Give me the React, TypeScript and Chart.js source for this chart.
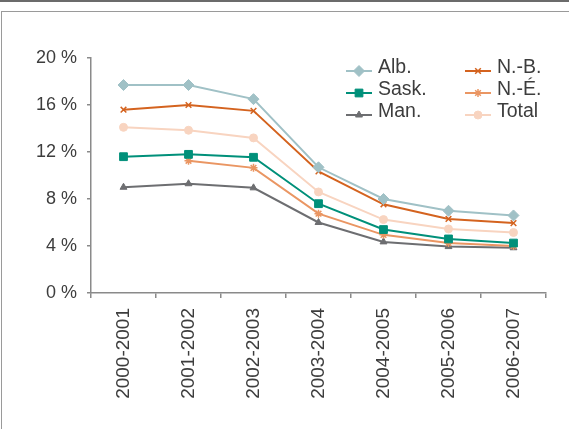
import React, { useEffect, useRef } from 'react';
import { Chart, registerables } from 'chart.js';
import { drawPoint } from 'chart.js/helpers';

Chart.register(...registerables);

const categories = ['2000-2001', '2001-2002', '2002-2003', '2003-2004', '2004-2005', '2005-2006', '2006-2007'];
const albValues = [17.7, 17.7, 16.5, 10.7, 8.0, 7.0, 6.6];
const nbValues = [15.6, 16.0, 15.5, 10.35, 7.55, 6.3, 5.95];
const totalValues = [14.1, 13.85, 13.2, 8.6, 6.25, 5.45, 5.15];
const saskValues = [11.6, 11.8, 11.55, 7.6, 5.4, 4.6, 4.25];
const neValues = [null, 11.25, 10.65, 6.75, 4.95, 4.25, 4.0];
const manValues = [9.0, 9.3, 8.95, 6.0, 4.35, 3.95, 3.85];
const yTickValues = [0, 4, 8, 12, 16, 20];

const FONT = "'Liberation Sans', Arial, 'DejaVu Sans', sans-serif";

type Series = {
  label: string;
  data: (number | null)[];
  color: string;
  pointStyle: string;
  radius: number;
  pointBorder: number;
};

const series: Series[] = [
  { label: 'Alb.', data: albValues, color: '#a0c1c6', pointStyle: 'rectRot', radius: 5.5, pointBorder: 1 },
  { label: 'N.-B.', data: nbValues, color: '#d4631f', pointStyle: 'crossRot', radius: 4, pointBorder: 1.5 },
  { label: 'Total', data: totalValues, color: '#f8d4c0', pointStyle: 'circle', radius: 4, pointBorder: 1 },
  { label: 'Sask.', data: saskValues, color: '#00907a', pointStyle: 'rect', radius: 5.5, pointBorder: 1 },
  { label: 'N.-É.', data: neValues, color: '#ea9663', pointStyle: 'star', radius: 4, pointBorder: 1.5 },
  { label: 'Man.', data: manValues, color: '#6d6e71', pointStyle: 'triangle', radius: 4, pointBorder: 1 },
];

// legend layout: column-major, 2 columns x 3 rows
const legendColumns: string[][] = [
  ['Alb.', 'Sask.', 'Man.'],
  ['N.-B.', 'N.-É.', 'Total'],
];

const legendPlugin = {
  id: 'customLegend',
  afterDraw(chart: any) {
    const ctx = chart.ctx as CanvasRenderingContext2D;
    const area = chart.chartArea;
    const colX = [area.left + 255, area.left + 374];
    const rowY = [area.top + 13, area.top + 35, area.top + 57];
    ctx.save();
    legendColumns.forEach((col, ci) => {
      col.forEach((name, ri) => {
        const s = series.find((x) => x.label === name)!;
        const x0 = colX[ci];
        const y = rowY[ri];
        ctx.strokeStyle = s.color;
        ctx.fillStyle = s.color;
        ctx.lineWidth = 2;
        ctx.beginPath();
        ctx.moveTo(x0, y);
        ctx.lineTo(x0 + 26, y);
        ctx.stroke();
        ctx.lineWidth = s.pointBorder;
        drawPoint(ctx, { pointStyle: s.pointStyle as any, radius: s.radius, rotation: 0, borderWidth: s.pointBorder } as any, x0 + 13, y);
        ctx.fillStyle = '#3d3d3d';
        ctx.font = `19.5px ${FONT}`;
        ctx.textAlign = 'left';
        ctx.textBaseline = 'alphabetic';
        ctx.fillText(name, x0 + 32, y + 2);
      });
    });
    ctx.restore();
  },
};

export default function App() {
  const ref = useRef<HTMLCanvasElement>(null);

  useEffect(() => {
    if (!ref.current) return;
    const axisColor = '#8a8a8a';
    const chart = new Chart(ref.current, {
      type: 'line',
      data: {
        labels: categories,
        datasets: series.map((s) => ({
          label: s.label,
          data: s.data,
          borderColor: s.color,
          backgroundColor: s.color,
          borderWidth: 2,
          pointStyle: s.pointStyle as any,
          pointRadius: s.radius,
          pointBorderWidth: s.pointBorder,
          pointBackgroundColor: s.color,
          pointBorderColor: s.color,
          tension: 0,
          spanGaps: false,
        })),
      },
      options: {
        responsive: false,
        animation: false,
        layout: { padding: { left: 0, top: 58, right: 23, bottom: 0 } },
        plugins: {
          legend: { display: false },
          tooltip: { enabled: false },
        },
        scales: {
          x: {
            offset: true,
            grid: {
              display: true,
              offset: true,
              drawOnChartArea: false,
              drawTicks: true,
              tickLength: 5,
              color: axisColor,
              lineWidth: 1.5,
            },
            border: { display: true, color: axisColor, width: 1.5 },
            ticks: {
              autoSkip: false,
              maxRotation: 90,
              minRotation: 90,
              padding: 10,
              color: '#3d3d3d',
              font: { family: FONT, size: 19 },
            },
            afterFit(scale: any) {
              scale.height = 136;
            },
          },
          y: {
            min: 0,
            max: 20,
            afterBuildTicks(scale: any) {
              scale.ticks = yTickValues.map((v) => ({ value: v }));
            },
            grid: {
              display: true,
              drawOnChartArea: false,
              drawTicks: true,
              tickLength: 4,
              color: axisColor,
              lineWidth: 1.5,
            },
            border: { display: true, color: axisColor, width: 1.5 },
            ticks: {
              padding: 10,
              color: '#3d3d3d',
              font: { family: FONT, size: 18 },
              callback: (v: any) => `${v} %`,
            },
            afterFit(scale: any) {
              scale.width = 91;
            },
          },
        },
      },
      plugins: [legendPlugin],
    });
    return () => chart.destroy();
  }, []);

  return (
    <div style={{ position: 'fixed', left: 0, top: 0, width: 569, height: 429, background: '#fff', overflow: 'hidden' }}>
      <div style={{ position: 'absolute', left: 0, top: 0, width: 569, height: 2, background: '#6b6b6b' }} />
      <div
        style={{
          position: 'absolute',
          left: 1,
          top: 11,
          width: 700,
          height: 600,
          border: '1.5px solid #9a9a9a',
          boxSizing: 'border-box',
        }}
      />
      <canvas ref={ref} width={569} height={429} style={{ position: 'absolute', left: 0, top: 0 }} />
    </div>
  );
}
